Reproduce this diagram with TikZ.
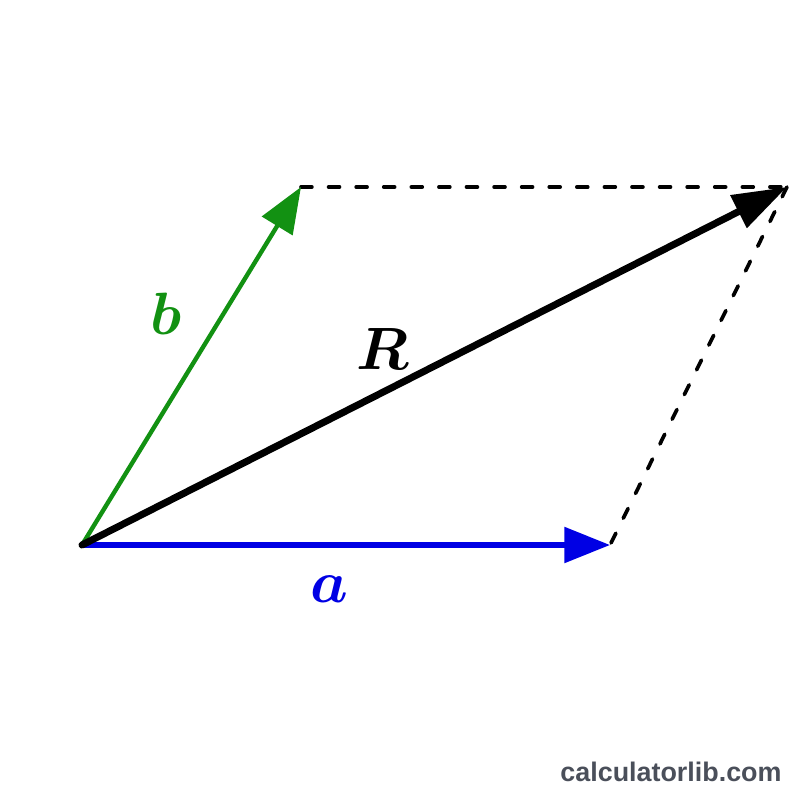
\RequirePackage{fix-cm}
\documentclass[tikz,border=0pt]{standalone}
\usepackage{amsmath}
\usepackage{bm}
\usepackage{fontspec}
\newfontfamily\wmfont{Liberation Sans}
\usetikzlibrary{arrows.meta}
\DeclareFontShape{OML}{cmm}{b}{it}{<->cmmib10}{}
\DeclareFontShape{OML}{cmm}{m}{it}{<->cmmi10}{}
\DeclareFontShape{OT1}{cmr}{bx}{n}{<->cmbx10}{}
\definecolor{vecgreen}{RGB}{18,145,18}
\definecolor{vecblue}{RGB}{0,0,228}
\definecolor{wmgray}{RGB}{74,79,90}
\tikzset{
  vec/.style={line cap=round, -{Triangle[length=26pt,width=20pt]}},
  vecbig/.style={line cap=round, -{Triangle[length=31pt,width=20pt]}},
  guide/.style={black, line width=2.1pt, line cap=round, dash pattern=on 6.2pt off 9.5pt},
  lbl/.style={font=\fontsize{34}{40}\selectfont, inner sep=0pt},
}
\begin{document}
\begin{tikzpicture}[x=0.02cm,y=-0.02cm]
\useasboundingbox (0,0) rectangle (800,800);
\coordinate (O) at (82,545);
\coordinate (A) at (610,545);
\coordinate (B) at (301,187);
\coordinate (S) at (787,187);
\draw[guide] (B) -- (S);
\draw[guide] (S) -- (A);
\draw[vec, vecblue, line width=2.9pt] (O) -- (A);
\draw[vec, vecgreen, line width=2.5pt] (O) -- (B);
\draw[vecbig, black, line width=4pt] (O) -- (S);
\node[lbl, text=vecgreen] (lb) at (166,314) {$\bm{b}$};
\node[lbl, text=black] (lR) at (383,349) {$\bm{R}$};
\node[lbl, text=vecblue] (la) at (329,589) {$\bm{a}$};
\node[inner sep=0pt, text=wmgray, font=\wmfont\bfseries\fontsize{15.3}{18}\selectfont] (wm) at (671,772) {calculatorlib.com};
\end{tikzpicture}
\end{document}
